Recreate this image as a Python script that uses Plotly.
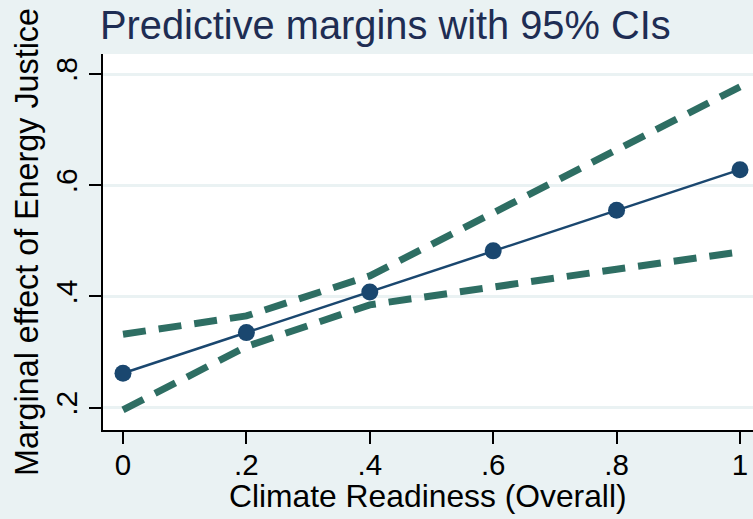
import plotly.graph_objects as go

# Data
readiness = [0, 0.2, 0.4, 0.6, 0.8, 1.0]
margin = [0.262, 0.335, 0.408, 0.482, 0.555, 0.628]
ci_upper = [0.332, 0.365, 0.437, 0.551, 0.663, 0.777]
ci_lower = [0.196, 0.310, 0.385, 0.418, 0.449, 0.480]

x_tickvals = [0, 0.2, 0.4, 0.6, 0.8, 1.0]
x_ticktext = ["0", ".2", ".4", ".6", ".8", "1"]
y_tickvals = [0.2, 0.4, 0.6, 0.8]
y_ticktext = [".2", ".4", ".6", ".8"]

title_text = "Predictive margins with 95% CIs"
x_title = "Climate Readiness (Overall)"
y_title = "Marginal effect of Energy Justice"

FONT = "Liberation Sans, Arial, Helvetica, sans-serif"
BG = "#EAF2F3"
CI_COLOR = "#2E6E63"
NAVY = "#1A476F"

fig = go.Figure()
dash = "23px,13px"
fig.add_trace(go.Scatter(x=readiness, y=ci_upper, mode="lines",
                         line=dict(color=CI_COLOR, width=7, dash=dash),
                         showlegend=False, hoverinfo="skip"))
fig.add_trace(go.Scatter(x=readiness, y=ci_lower, mode="lines",
                         line=dict(color=CI_COLOR, width=7, dash=dash),
                         showlegend=False, hoverinfo="skip"))
fig.add_trace(go.Scatter(x=readiness, y=margin, mode="lines+markers",
                         line=dict(color=NAVY, width=2.5),
                         marker=dict(color=NAVY, size=17),
                         showlegend=False))

fig.update_layout(
    width=753, height=519,
    margin=dict(l=103, r=0, t=54, b=89),
    paper_bgcolor=BG, plot_bgcolor="white",
    font=dict(family=FONT, color="black"),
    xaxis=dict(range=[-0.0324, 1.0211], tickvals=x_tickvals, ticktext=x_ticktext,
               showgrid=False, zeroline=False, showline=True, linecolor="black",
               linewidth=1.5, ticks="outside", ticklen=12, tickwidth=1.5,
               tickcolor="black", tickfont=dict(size=29.5, family=FONT),
               ticklabelstandoff=-4),
    yaxis=dict(range=[0.1599, 0.836], tickvals=y_tickvals, ticktext=y_ticktext,
               showgrid=True, gridcolor=BG, gridwidth=2.5, zeroline=False,
               showline=True, linecolor="black", linewidth=1.5, ticks="outside",
               ticklen=12, tickwidth=1.5, tickcolor="black", tickangle=-90,
               tickfont=dict(size=30, family=FONT)),
    annotations=[
        dict(text=title_text, xref="paper", yref="paper", x=-0.008, y=1.077,
             xanchor="left", yanchor="middle", showarrow=False,
             font=dict(size=39.8, color="#1E2D53", family=FONT)),
        dict(text=x_title, xref="paper", yref="paper", x=0.5, y=-0.1755,
             xanchor="center", yanchor="middle", showarrow=False,
             font=dict(size=31.8, family=FONT)),
        dict(text=y_title, xref="paper", yref="paper", x=-0.1169, y=0.5,
             xanchor="center", yanchor="middle", textangle=-90, showarrow=False,
             font=dict(size=32.3, family=FONT)),
    ],
)

fig.write_html("out.html")
